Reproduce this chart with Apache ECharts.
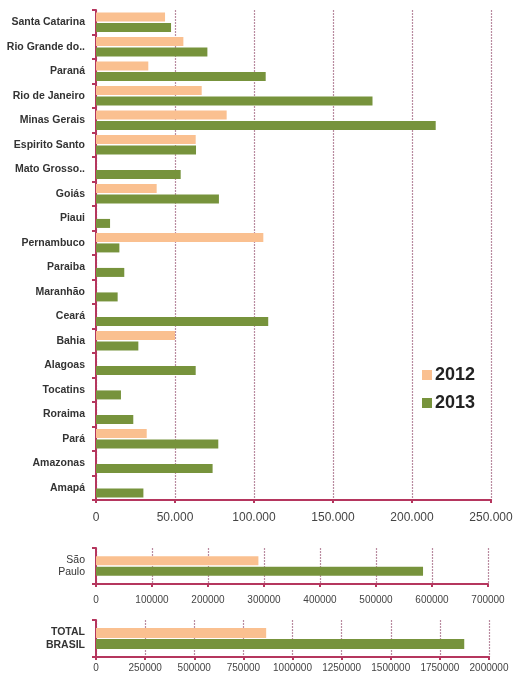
<!DOCTYPE html>
<html>
<head>
<meta charset="utf-8">
<script src="https://cdn.jsdelivr.net/npm/echarts@6/dist/echarts.min.js"></script>
<style>
  html, body { margin: 0; padding: 0; background: #fff; }
  #chart { width: 517px; height: 684px; }
</style>
</head>
<body>
<div id="chart"></div>
<script>
// estados (de cima para baixo)
const states = ['Santa Catarina', 'Rio Grande do..', 'Paraná', 'Rio de Janeiro', 'Minas Gerais',
  'Espirito Santo', 'Mato Grosso..', 'Goiás', 'Piaui', 'Pernambuco', 'Paraiba', 'Maranhão',
  'Ceará', 'Bahia', 'Alagoas', 'Tocatins', 'Roraima', 'Pará', 'Amazonas', 'Amapá'];
const values2012 = [43700, 55300, 33100, 66900, 82700, 63100, 0, 38400, 0, 105900,
  0, 0, 0, 50000, 0, 0, 0, 32100, 0, 0];
const values2013 = [47500, 70500, 107400, 175000, 215000, 63300, 53600, 77800, 8900, 14800,
  17900, 13700, 109000, 26800, 63100, 15800, 23600, 77400, 73800, 30000];

const spLabel = ['São\nPaulo'];
const sp2012 = [290000];
const sp2013 = [584000];

const brLabel = ['TOTAL\nBRASIL'];
const br2012 = [866000];
const br2013 = [1874000];

const AXIS = '#b5365e';
const GRID = '#b98ba0';
const C2012 = '#fac090';
const C2013 = '#77933c';
const FONT = "'Liberation Sans', Arial, sans-serif";

const myChart = echarts.init(document.getElementById('chart'));

function valueAxis(gridIndex, max, interval, fmt, fontSize, margin) {
  return {
    type: 'value', gridIndex, min: 0, max, interval,
    axisLine: {show: true, lineStyle: {color: AXIS, width: 2}},
    axisTick: {show: true, length: 3, lineStyle: {color: AXIS, width: 2}},
    axisLabel: {color: '#444', fontFamily: FONT, fontSize, margin, formatter: fmt},
    splitLine: {show: true, lineStyle: {color: GRID, type: [2, 1], width: 1.2}}
  };
}
function catAxis(gridIndex, data, fontSize, bold) {
  return {
    type: 'category', gridIndex, data, inverse: true,
    axisLine: {show: true, lineStyle: {color: AXIS, width: 2}},
    axisTick: {show: true, length: 4, lineStyle: {color: AXIS, width: 2}},
    axisLabel: {color: '#333', fontFamily: FONT, fontSize, fontWeight: bold ? 'bold' : 'normal',
      margin: 11, lineHeight: fontSize + 2, align: 'right'}
  };
}
const dotFmt = v => v === 0 ? '0' : String(v).replace(/\B(?=(\d{3})+(?!\d))/g, '.');

myChart.setOption({
  animation: false,
  backgroundColor: '#fff',
  textStyle: {fontFamily: FONT},
  legend: {
    data: ['2012', '2013'],
    orient: 'vertical',
    left: 417, top: 361,
    itemWidth: 10, itemHeight: 10, itemGap: 10,
    icon: 'rect',
    textStyle: {fontSize: 18, fontWeight: 'bold', color: '#222', fontFamily: FONT, padding: [0, 0, 0, -2]}
  },
  grid: [
    {left: 96, top: 10, width: 395, height: 490, containLabel: false, outerBoundsMode: 'none'},
    {left: 96, top: 548, width: 392, height: 36, containLabel: false, outerBoundsMode: 'none'},
    {left: 96, top: 620, width: 393, height: 37, containLabel: false, outerBoundsMode: 'none'}
  ],
  xAxis: [
    valueAxis(0, 250000, 50000, dotFmt, 12, 12),
    valueAxis(1, 700000, 100000, v => String(v), 10, 11),
    valueAxis(2, 2000000, 250000, v => String(v), 10, 6)
  ],
  yAxis: [
    catAxis(0, states, 10.5, true),
    catAxis(1, spLabel, 10.5, false),
    catAxis(2, brLabel, 10.5, true)
  ],
  series: [
    {name: '2012', type: 'bar', xAxisIndex: 0, yAxisIndex: 0, data: values2012,
      barWidth: 9, barGap: '15%', itemStyle: {color: C2012}},
    {name: '2013', type: 'bar', xAxisIndex: 0, yAxisIndex: 0, data: values2013,
      barWidth: 9, barGap: '15%', itemStyle: {color: C2013}},
    {name: '2012', type: 'bar', xAxisIndex: 1, yAxisIndex: 1, data: sp2012,
      barWidth: 9, barGap: '15%', itemStyle: {color: C2012}},
    {name: '2013', type: 'bar', xAxisIndex: 1, yAxisIndex: 1, data: sp2013,
      barWidth: 9, barGap: '15%', itemStyle: {color: C2013}},
    {name: '2012', type: 'bar', xAxisIndex: 2, yAxisIndex: 2, data: br2012,
      barWidth: 10, barGap: '10%', itemStyle: {color: C2012}},
    {name: '2013', type: 'bar', xAxisIndex: 2, yAxisIndex: 2, data: br2013,
      barWidth: 10, barGap: '10%', itemStyle: {color: C2013}}
  ]
});
</script>
</body>
</html>
